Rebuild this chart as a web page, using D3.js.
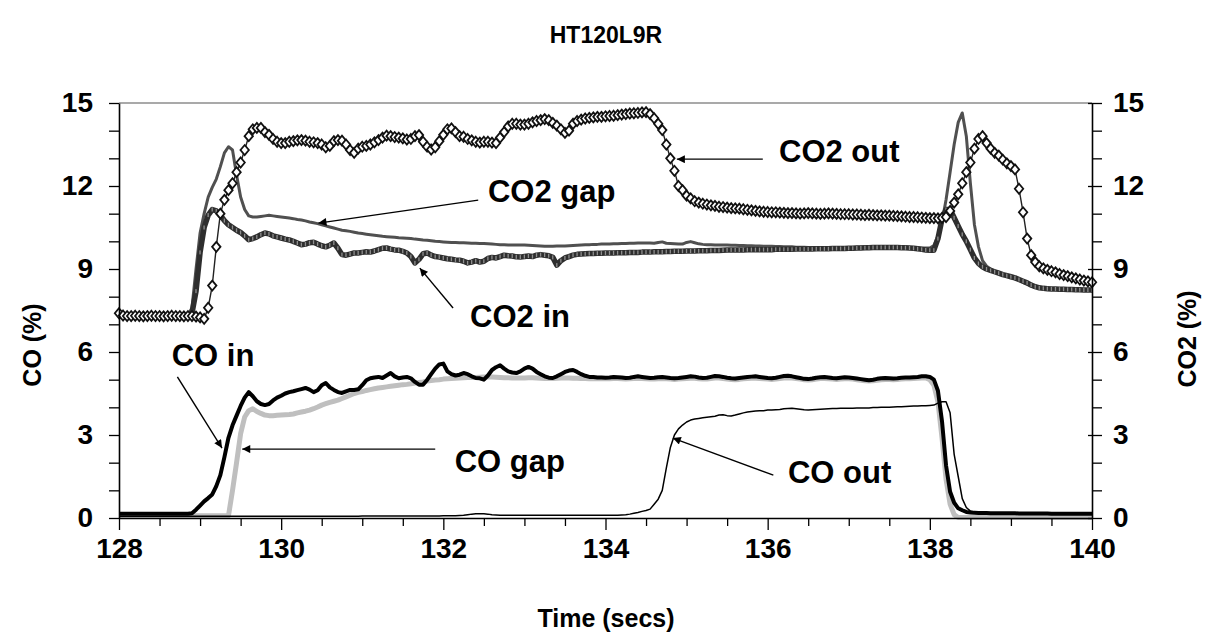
<!DOCTYPE html>
<html>
<head>
<meta charset="utf-8">
<script src="https://cdn.jsdelivr.net/npm/d3@7"></script>
<style>
  html, body { margin: 0; padding: 0; background: #fff; }
  svg { display: block; font-family: Arial, "Liberation Sans", sans-serif; }
</style>
</head>
<body>
<svg id="chart" width="1211" height="643"></svg>
<script>
// Sampling grid: 0.05 s steps from 128 s to 140 s (241 samples)
const time = d3.range(241).map(i => +(128 + i * 0.05).toFixed(2));

// CO2 outlet (%)
const co2Out = [
  7.40, 7.32, 7.30, 7.30, 7.31, 7.30, 7.29, 7.30, 7.31, 7.30, 7.30, 7.29, 7.30, 7.31, 7.30, 7.30, 7.29, 7.30, 7.30, 7.28,
  7.25, 7.20, 7.60, 8.40, 9.80, 11.00, 11.50, 11.85, 12.10, 12.50, 12.85, 13.30, 13.80, 14.05, 14.10, 14.10, 13.95, 13.85, 13.70, 13.60,
  13.55, 13.55, 13.60, 13.62, 13.65, 13.66, 13.64, 13.60, 13.58, 13.55, 13.50, 13.40, 13.45, 13.62, 13.66, 13.64, 13.50, 13.30, 13.20, 13.35,
  13.42, 13.45, 13.50, 13.58, 13.66, 13.75, 13.82, 13.80, 13.77, 13.75, 13.72, 13.68, 13.70, 13.80, 13.84, 13.60, 13.42, 13.32, 13.40, 13.62,
  13.85, 14.05, 14.08, 13.95, 13.80, 13.78, 13.70, 13.65, 13.60, 13.57, 13.60, 13.60, 13.57, 13.55, 13.75, 13.95, 14.15, 14.25, 14.25, 14.22,
  14.22, 14.25, 14.30, 14.35, 14.38, 14.42, 14.38, 14.28, 14.18, 14.05, 13.92, 14.00, 14.25, 14.35, 14.40, 14.44, 14.46, 14.48, 14.50, 14.50,
  14.52, 14.53, 14.54, 14.56, 14.58, 14.60, 14.62, 14.63, 14.64, 14.66, 14.67, 14.60, 14.45, 14.25, 14.02, 13.50, 13.00, 12.55, 12.00, 11.85,
  11.65, 11.55, 11.45, 11.40, 11.36, 11.33, 11.30, 11.28, 11.25, 11.24, 11.22, 11.20, 11.19, 11.18, 11.16, 11.14, 11.12, 11.10, 11.08, 11.07,
  11.06, 11.05, 11.05, 11.04, 11.03, 11.02, 11.02, 11.01, 11.00, 11.01, 11.02, 11.01, 11.00, 10.99, 11.00, 11.01, 11.00, 10.99, 10.98, 10.98,
  10.98, 10.97, 10.97, 10.96, 10.95, 10.96, 10.95, 10.94, 10.94, 10.93, 10.93, 10.92, 10.91, 10.90, 10.89, 10.88, 10.88, 10.87, 10.86, 10.85,
  10.84, 10.84, 10.83, 10.85, 10.88, 11.10, 11.40, 11.70, 12.10, 12.50, 12.85, 13.35, 13.70, 13.80, 13.55, 13.35, 13.20, 13.10, 12.95, 12.82,
  12.72, 12.60, 11.90, 11.05, 10.10, 9.50, 9.25, 9.10, 9.02, 8.97, 8.92, 8.88, 8.82, 8.78, 8.74, 8.70, 8.66, 8.62, 8.58, 8.55,
  8.52
];

// CO2 gap (%)
const co2Gap = [
  7.30, 7.30, 7.30, 7.30, 7.30, 7.30, 7.30, 7.30, 7.30, 7.30, 7.30, 7.30, 7.30, 7.30, 7.30, 7.30, 7.30, 7.30, 7.60, 9.00,
  10.30, 11.00, 11.60, 11.95, 12.25, 12.70, 13.20, 13.42, 13.30, 12.40, 11.60, 11.15, 10.92, 10.88, 10.88, 10.90, 10.92, 10.94, 10.92, 10.90,
  10.88, 10.86, 10.84, 10.82, 10.79, 10.77, 10.74, 10.70, 10.67, 10.64, 10.60, 10.56, 10.52, 10.48, 10.44, 10.40, 10.38, 10.36, 10.33, 10.30,
  10.28, 10.26, 10.24, 10.22, 10.20, 10.18, 10.17, 10.16, 10.15, 10.13, 10.12, 10.11, 10.10, 10.08, 10.07, 10.05, 10.04, 10.02, 10.00, 9.99,
  9.98, 9.97, 9.96, 9.96, 9.95, 9.95, 9.94, 9.93, 9.93, 9.92, 9.92, 9.91, 9.90, 9.89, 9.88, 9.88, 9.87, 9.87, 9.87, 9.87,
  9.87, 9.86, 9.85, 9.84, 9.83, 9.82, 9.82, 9.82, 9.83, 9.83, 9.83, 9.84, 9.85, 9.86, 9.87, 9.88, 9.88, 9.89, 9.89, 9.90,
  9.90, 9.90, 9.91, 9.91, 9.92, 9.92, 9.93, 9.93, 9.94, 9.94, 9.94, 9.94, 9.93, 9.96, 9.98, 9.93, 9.92, 9.91, 9.90, 9.90,
  9.96, 9.99, 9.95, 9.91, 9.89, 9.88, 9.88, 9.87, 9.87, 9.87, 9.87, 9.86, 9.86, 9.85, 9.85, 9.84, 9.84, 9.83, 9.83, 9.82,
  9.82, 9.82, 9.81, 9.81, 9.80, 9.80, 9.80, 9.79, 9.79, 9.79, 9.78, 9.78, 9.78, 9.78, 9.78, 9.78, 9.78, 9.78, 9.78, 9.78,
  9.78, 9.78, 9.79, 9.79, 9.79, 9.80, 9.80, 9.80, 9.80, 9.80, 9.80, 9.80, 9.79, 9.79, 9.78, 9.78, 9.77, 9.77, 9.76, 9.76,
  9.76, 9.85, 10.20, 10.70, 11.50, 12.50, 13.50, 14.30, 14.64, 13.80, 12.10, 10.60, 9.80, 9.30, 9.10, 9.00, 8.92, 8.85, 8.80, 8.75,
  8.70, 8.66, 8.60, 8.52, 8.45, 8.38, 8.34, 8.32, 8.30, 8.29, 8.28, 8.28, 8.27, 8.27, 8.26, 8.26, 8.25, 8.25, 8.24, 8.24,
  8.24
];

// CO2 inlet (%)
const co2In = [
  7.30, 7.30, 7.30, 7.30, 7.30, 7.30, 7.30, 7.30, 7.30, 7.30, 7.30, 7.30, 7.30, 7.30, 7.30, 7.30, 7.30, 7.30, 7.40, 8.20,
  9.60, 10.50, 10.95, 11.15, 11.10, 10.95, 10.75, 10.60, 10.50, 10.40, 10.32, 10.20, 10.06, 10.10, 10.16, 10.24, 10.30, 10.27, 10.20, 10.16,
  10.12, 10.08, 10.05, 10.00, 9.94, 9.88, 9.90, 9.95, 9.97, 9.90, 9.84, 9.80, 9.86, 9.94, 9.75, 9.52, 9.50, 9.54, 9.58, 9.58,
  9.60, 9.62, 9.61, 9.65, 9.70, 9.75, 9.76, 9.72, 9.69, 9.68, 9.64, 9.58, 9.45, 9.22, 9.35, 9.55, 9.58, 9.50, 9.45, 9.43,
  9.40, 9.37, 9.35, 9.33, 9.32, 9.28, 9.22, 9.25, 9.30, 9.25, 9.28, 9.38, 9.42, 9.40, 9.45, 9.50, 9.48, 9.47, 9.44, 9.43,
  9.45, 9.47, 9.45, 9.50, 9.52, 9.50, 9.48, 9.42, 9.14, 9.30, 9.40, 9.45, 9.50, 9.53, 9.54, 9.55, 9.56, 9.56, 9.57, 9.57,
  9.58, 9.58, 9.58, 9.59, 9.59, 9.59, 9.60, 9.60, 9.60, 9.61, 9.61, 9.61, 9.62, 9.62, 9.62, 9.63, 9.63, 9.64, 9.64, 9.64,
  9.65, 9.65, 9.65, 9.66, 9.66, 9.66, 9.67, 9.67, 9.67, 9.68, 9.69, 9.69, 9.69, 9.69, 9.69, 9.70, 9.70, 9.70, 9.70, 9.70,
  9.70, 9.70, 9.71, 9.71, 9.71, 9.71, 9.71, 9.72, 9.72, 9.72, 9.72, 9.72, 9.73, 9.73, 9.73, 9.73, 9.74, 9.74, 9.74, 9.74,
  9.75, 9.75, 9.76, 9.76, 9.77, 9.77, 9.78, 9.78, 9.78, 9.78, 9.78, 9.78, 9.78, 9.77, 9.77, 9.76, 9.75, 9.73, 9.71, 9.69,
  9.68, 9.68, 10.10, 10.80, 11.15, 11.15, 10.85, 10.55, 10.25, 10.00, 9.70, 9.40, 9.20, 9.08, 9.00, 8.95, 8.90, 8.85, 8.80, 8.76,
  8.72, 8.68, 8.62, 8.56, 8.50, 8.42, 8.36, 8.32, 8.30, 8.29, 8.28, 8.28, 8.27, 8.27, 8.26, 8.26, 8.25, 8.25, 8.24, 8.24,
  8.24
];

// CO inlet (%)
const coIn = [
  0.15, 0.15, 0.15, 0.15, 0.15, 0.15, 0.15, 0.15, 0.15, 0.15, 0.15, 0.15, 0.15, 0.15, 0.15, 0.15, 0.15, 0.15, 0.17, 0.30,
  0.45, 0.60, 0.72, 0.85, 1.15, 1.55, 2.20, 2.90, 3.35, 3.70, 4.05, 4.35, 4.55, 4.40, 4.22, 4.12, 4.08, 4.12, 4.25, 4.35,
  4.42, 4.50, 4.55, 4.58, 4.62, 4.66, 4.70, 4.64, 4.55, 4.62, 4.80, 4.88, 4.72, 4.63, 4.55, 4.52, 4.58, 4.63, 4.63, 4.65,
  4.80, 4.98, 5.05, 5.08, 5.10, 5.06, 5.15, 5.24, 5.12, 5.05, 5.08, 5.10, 5.05, 4.92, 4.82, 4.82, 4.99, 5.20, 5.40, 5.55,
  5.58, 5.30, 5.20, 5.15, 5.18, 5.24, 5.20, 5.12, 5.06, 5.05, 5.00, 5.15, 5.35, 5.45, 5.52, 5.40, 5.30, 5.26, 5.24, 5.30,
  5.40, 5.46, 5.40, 5.28, 5.20, 5.12, 5.07, 5.06, 5.12, 5.20, 5.28, 5.33, 5.35, 5.28, 5.20, 5.14, 5.10, 5.10, 5.08, 5.08,
  5.07, 5.08, 5.10, 5.09, 5.08, 5.06, 5.07, 5.10, 5.12, 5.10, 5.08, 5.06, 5.07, 5.09, 5.10, 5.08, 5.06, 5.05, 5.06, 5.08,
  5.10, 5.12, 5.11, 5.08, 5.06, 5.07, 5.10, 5.13, 5.12, 5.10, 5.07, 5.05, 5.04, 5.06, 5.08, 5.10, 5.11, 5.12, 5.10, 5.08,
  5.06, 5.05, 5.07, 5.10, 5.13, 5.14, 5.12, 5.09, 5.06, 5.03, 5.02, 5.04, 5.07, 5.09, 5.10, 5.08, 5.06, 5.05, 5.07, 5.09,
  5.08, 5.06, 5.04, 5.02, 5.00, 4.98, 5.00, 5.03, 5.05, 5.06, 5.05, 5.04, 5.05, 5.07, 5.08, 5.08, 5.09, 5.10, 5.12, 5.12,
  5.10, 5.00, 4.60, 3.50, 1.90, 0.95, 0.55, 0.35, 0.28, 0.22, 0.20, 0.19, 0.18, 0.18, 0.18, 0.17, 0.17, 0.17, 0.17, 0.17,
  0.17, 0.17, 0.16, 0.16, 0.16, 0.16, 0.16, 0.16, 0.16, 0.16, 0.15, 0.15, 0.15, 0.15, 0.15, 0.15, 0.15, 0.15, 0.15, 0.15,
  0.15
];

// CO gap (%)
const coGap = [
  0.08, 0.08, 0.08, 0.08, 0.08, 0.08, 0.08, 0.08, 0.08, 0.08, 0.08, 0.08, 0.08, 0.08, 0.08, 0.08, 0.08, 0.08, 0.08, 0.08,
  0.08, 0.08, 0.08, 0.08, 0.08, 0.08, 0.08, 0.08, 1.00, 2.00, 3.05, 3.65, 3.88, 3.95, 3.85, 3.78, 3.72, 3.70, 3.70, 3.71,
  3.72, 3.73, 3.74, 3.76, 3.80, 3.83, 3.86, 3.90, 3.95, 4.01, 4.08, 4.13, 4.18, 4.22, 4.26, 4.32, 4.38, 4.44, 4.50, 4.54,
  4.57, 4.61, 4.64, 4.67, 4.70, 4.72, 4.74, 4.76, 4.78, 4.80, 4.82, 4.83, 4.85, 4.88, 4.90, 4.92, 4.95, 4.97, 4.99, 5.00,
  5.02, 5.03, 5.04, 5.05, 5.06, 5.07, 5.08, 5.08, 5.08, 5.09, 5.10, 5.10, 5.10, 5.09, 5.08, 5.07, 5.07, 5.06, 5.06, 5.06,
  5.06, 5.07, 5.07, 5.06, 5.05, 5.04, 5.04, 5.04, 5.05, 5.06, 5.06, 5.06, 5.05, 5.05, 5.04, 5.04, 5.03, 5.03, 5.03, 5.03,
  5.03, 5.03, 5.04, 5.04, 5.03, 5.02, 5.03, 5.04, 5.05, 5.04, 5.03, 5.02, 5.02, 5.03, 5.04, 5.03, 5.02, 5.01, 5.02, 5.03,
  5.04, 5.05, 5.05, 5.03, 5.02, 5.02, 5.04, 5.06, 5.06, 5.04, 5.02, 5.01, 5.00, 5.01, 5.03, 5.04, 5.05, 5.05, 5.04, 5.03,
  5.02, 5.01, 5.02, 5.04, 5.06, 5.07, 5.06, 5.04, 5.02, 5.00, 4.99, 5.00, 5.02, 5.04, 5.04, 5.03, 5.02, 5.01, 5.02, 5.03,
  5.03, 5.02, 5.00, 4.98, 4.96, 4.95, 4.96, 4.98, 5.00, 5.01, 5.01, 5.00, 5.01, 5.02, 5.03, 5.03, 5.04, 5.05, 5.06, 5.06,
  5.00, 4.80, 4.20, 2.90, 1.40, 0.50, 0.12, 0.02, 0.02, 0.02, 0.02, 0.02, 0.02, 0.02, 0.02, 0.02, 0.02, 0.02, 0.02, 0.02,
  0.02, 0.02, 0.02, 0.02, 0.02, 0.02, 0.02, 0.02, 0.02, 0.02, 0.02, 0.02, 0.02, 0.02, 0.02, 0.02, 0.02, 0.02, 0.02, 0.02,
  0.02
];

// CO outlet (%)
const coOut = [
  0.06, 0.06, 0.06, 0.06, 0.06, 0.06, 0.06, 0.06, 0.06, 0.06, 0.06, 0.06, 0.06, 0.06, 0.06, 0.06, 0.06, 0.06, 0.06, 0.06,
  0.06, 0.06, 0.06, 0.06, 0.06, 0.06, 0.06, 0.06, 0.06, 0.06, 0.06, 0.06, 0.06, 0.06, 0.06, 0.06, 0.06, 0.06, 0.06, 0.06,
  0.06, 0.06, 0.06, 0.06, 0.06, 0.06, 0.06, 0.06, 0.06, 0.06, 0.06, 0.06, 0.06, 0.06, 0.06, 0.06, 0.06, 0.06, 0.06, 0.06,
  0.07, 0.07, 0.07, 0.07, 0.07, 0.07, 0.07, 0.07, 0.07, 0.07, 0.07, 0.07, 0.07, 0.07, 0.07, 0.07, 0.07, 0.07, 0.07, 0.07,
  0.08, 0.08, 0.08, 0.08, 0.09, 0.10, 0.12, 0.14, 0.15, 0.15, 0.15, 0.14, 0.12, 0.11, 0.10, 0.10, 0.10, 0.10, 0.10, 0.10,
  0.10, 0.10, 0.10, 0.10, 0.10, 0.10, 0.10, 0.10, 0.10, 0.10, 0.10, 0.10, 0.10, 0.10, 0.10, 0.10, 0.10, 0.10, 0.10, 0.10,
  0.10, 0.10, 0.10, 0.10, 0.11, 0.12, 0.14, 0.17, 0.20, 0.24, 0.27, 0.32, 0.50, 0.68, 1.00, 1.80, 2.55, 3.00, 3.22, 3.36,
  3.47, 3.54, 3.58, 3.60, 3.62, 3.64, 3.66, 3.68, 3.72, 3.73, 3.70, 3.69, 3.72, 3.76, 3.80, 3.83, 3.85, 3.87, 3.88, 3.88,
  3.90, 3.90, 3.91, 3.92, 3.95, 3.96, 3.97, 3.95, 3.93, 3.91, 3.90, 3.91, 3.92, 3.93, 3.94, 3.95, 3.96, 3.96, 3.97, 3.97,
  3.97, 3.97, 3.98, 3.98, 3.98, 3.98, 3.99, 3.99, 4.00, 4.00, 4.00, 4.01, 4.02, 4.02, 4.03, 4.04, 4.05, 4.05, 4.06, 4.06,
  4.07, 4.08, 4.15, 4.20, 4.20, 3.80, 2.30, 1.50, 0.70, 0.38, 0.25, 0.22, 0.20, 0.19, 0.19, 0.18, 0.18, 0.18, 0.18, 0.18,
  0.18, 0.18, 0.18, 0.18, 0.18, 0.18, 0.18, 0.18, 0.18, 0.18, 0.18, 0.18, 0.18, 0.18, 0.18, 0.18, 0.18, 0.18, 0.18, 0.18,
  0.18
];

// Axis ticks and labels
const xTicks = d3.range(128, 140.001, 0.5);
const xLabelTicks = [128, 130, 132, 134, 136, 138, 140];
const yTicks = d3.range(0, 16, 1);
const yLabelTicks = [0, 3, 6, 9, 12, 15];

// Annotations: label text, label position, arrow tail and head (in data units)
const notes = [
  { text: "CO2 out", at: [136.14, 12.87], from: [135.94, 12.97], to: [134.88, 12.97] },
  { text: "CO2 gap", at: [132.55, 11.43], from: [132.43, 11.49], to: [130.46, 10.66] },
  { text: "CO2 in",  at: [132.33, 6.90],  from: [132.12, 7.59],  to: [131.71, 9.03] },
  { text: "CO in",   at: [128.65, 5.49],  from: [128.72, 5.10],  to: [129.27, 2.53] },
  { text: "CO gap",  at: [132.14, 1.67],  from: [131.90, 2.49],  to: [129.52, 2.49] },
  { text: "CO out",  at: [136.25, 1.25],  from: [136.07, 1.55],  to: [134.83, 2.89] }
];

const svg = d3.select("#chart");
const W = 1211, H = 643;
const mLeft = 119, mRight = 1092, mTop = 103, mBottom = 518;

const x = d3.scaleLinear().domain([128, 140]).range([mLeft, mRight]);
const yL = d3.scaleLinear().domain([0, 15]).range([mBottom, mTop]);
const yR = d3.scaleLinear().domain([0, 15]).range([mBottom, mTop]);

svg.append("rect").attr("width", W).attr("height", H).attr("fill", "#fff");

// top frame of the plot area
svg.append("line")
  .attr("x1", mLeft).attr("x2", mRight).attr("y1", mTop).attr("y2", mTop)
  .attr("stroke", "#8c8c8c").attr("stroke-width", 1.5);

const pts = arr => arr.map((v, i) => [time[i], v]);
const lineL = d3.line().x(d => x(d[0])).y(d => yL(d[1]));
const lineR = d3.line().x(d => x(d[0])).y(d => yR(d[1]));

const plot = svg.append("g");

// CO series (left axis)
plot.append("path").datum(pts(coGap)).attr("d", lineL)
  .attr("fill", "none").attr("stroke", "#bfbfbf").attr("stroke-width", 5)
  .attr("stroke-linejoin", "round");
plot.append("path").datum(pts(coOut)).attr("d", lineL)
  .attr("fill", "none").attr("stroke", "#000").attr("stroke-width", 1.5)
  .attr("stroke-linejoin", "round");
plot.append("path").datum(pts(coIn)).attr("d", lineL)
  .attr("fill", "none").attr("stroke", "#000").attr("stroke-width", 4)
  .attr("stroke-linejoin", "round");

// CO2 series (right axis)
plot.append("path").datum(pts(co2Gap)).attr("d", lineR)
  .attr("fill", "none").attr("stroke", "#505050").attr("stroke-width", 3)
  .attr("stroke-linejoin", "round");

plot.append("path").datum(pts(co2In)).attr("d", lineR)
  .attr("fill", "none").attr("stroke", "#2e2e2e").attr("stroke-width", 5.5)
  .attr("stroke-linejoin", "round");
plot.append("g").selectAll("rect").data(pts(co2In)).join("rect")
  .attr("x", d => x(d[0]) - 0.7).attr("y", d => yR(d[1]) - 2)
  .attr("width", 1.3).attr("height", 4)
  .attr("fill", "#8f8f8f");

plot.append("path").datum(pts(co2Out)).attr("d", lineR)
  .attr("fill", "none").attr("stroke", "#222").attr("stroke-width", 1.4);
plot.append("g").selectAll("path").data(pts(co2Out)).join("path")
  .attr("transform", d => `translate(${x(d[0])},${yR(d[1])})`)
  .attr("d", "M0,-5L4.2,0L0,5L-4.2,0Z")
  .attr("fill", "#fff").attr("stroke", "#111").attr("stroke-width", 1.8);

// Axes
const fontTick = 28;

const gx = svg.append("g").attr("transform", `translate(0,${mBottom})`)
  .call(d3.axisBottom(x).tickValues(xTicks).tickSize(8).tickSizeOuter(0)
    .tickFormat(d => xLabelTicks.includes(d) ? d : ""));
gx.selectAll(".tick line")
  .attr("y2", d => xLabelTicks.includes(d) ? 12 : 8);
gx.selectAll(".tick text").attr("y", 20).attr("dy", "0.71em");

const gl = svg.append("g").attr("transform", `translate(${mLeft},0)`)
  .call(d3.axisLeft(yL).tickValues(yTicks).tickSize(10).tickSizeOuter(0).tickPadding(16)
    .tickFormat(d => yLabelTicks.includes(d) ? d : ""));

const gr = svg.append("g").attr("transform", `translate(${mRight},0)`)
  .call(d3.axisRight(yR).tickValues(yTicks).tickSize(10).tickSizeOuter(0).tickPadding(11)
    .tickFormat(d => yLabelTicks.includes(d) ? d : ""));
gr.selectAll(".tick").filter(d => yLabelTicks.includes(d)).append("line")
  .attr("x1", -4).attr("x2", 0).attr("stroke", "#000");

[gx, gl, gr].forEach(g => {
  g.select(".domain").attr("stroke", "#000").attr("stroke-width", 1.6);
  g.selectAll(".tick line").attr("stroke", "#000").attr("stroke-width", 1.3);
  g.selectAll(".tick text")
    .attr("font-family", "Arial, 'Liberation Sans', sans-serif")
    .attr("font-size", fontTick).attr("font-weight", "bold").attr("fill", "#000");
});

// Titles
svg.append("text").attr("x", 606).attr("y", 43).attr("text-anchor", "middle")
  .attr("font-size", 23).attr("font-weight", "bold").text("HT120L9R");
svg.append("text").attr("x", 606).attr("y", 627).attr("text-anchor", "middle")
  .attr("font-size", 25).attr("font-weight", "bold").text("Time (secs)");
svg.append("text").attr("transform", "translate(41,345) rotate(-90)")
  .attr("text-anchor", "middle").attr("font-size", 25).attr("font-weight", "bold").text("CO (%)");
svg.append("text").attr("transform", "translate(1196,339) rotate(-90)")
  .attr("text-anchor", "middle").attr("font-size", 25).attr("font-weight", "bold").text("CO2 (%)");

// Arrowhead
svg.append("defs").append("marker")
  .attr("id", "head").attr("viewBox", "0 0 10 10")
  .attr("refX", 10).attr("refY", 5)
  .attr("markerWidth", 10).attr("markerHeight", 8)
  .attr("markerUnits", "userSpaceOnUse")
  .attr("orient", "auto")
  .append("path").attr("d", "M0,0L10,5L0,10Z").attr("fill", "#000");

const ann = svg.append("g");
ann.selectAll("line").data(notes).join("line")
  .attr("x1", d => x(d.from[0])).attr("y1", d => yL(d.from[1]))
  .attr("x2", d => x(d.to[0])).attr("y2", d => yL(d.to[1]))
  .attr("stroke", "#000").attr("stroke-width", 1.4)
  .attr("marker-end", "url(#head)");
ann.selectAll("text").data(notes).join("text")
  .attr("x", d => x(d.at[0])).attr("y", d => yL(d.at[1]))
  .attr("font-size", 31).attr("font-weight", "bold")
  .text(d => d.text);
</script>
</body>
</html>
